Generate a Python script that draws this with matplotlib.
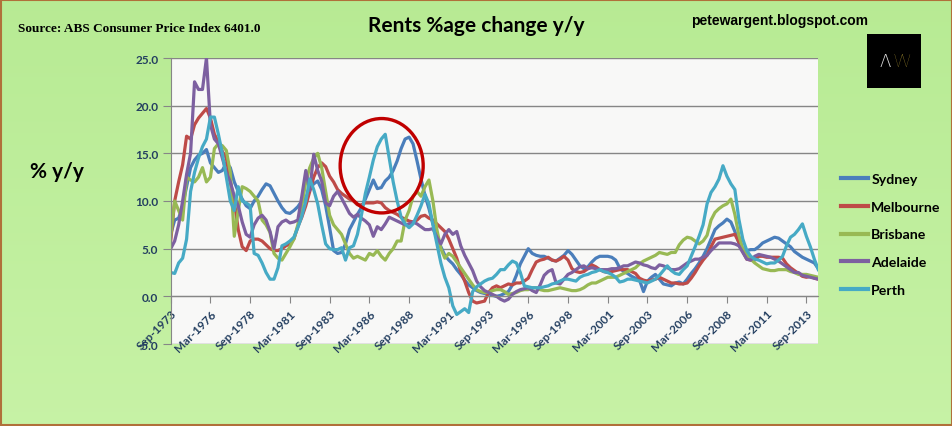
import numpy as np
import pandas as pd
import matplotlib
matplotlib.use("Agg")
import matplotlib.pyplot as plt
from matplotlib.patches import Ellipse, Rectangle

# ---------------- data (quarterly, Sep-1973 .. Jun-2014) ----------------
sydney = [
    6.5, 8.0, 8.2, 9.5, 11.5, 13.5, 14.3, 14.8, 15.0, 15.4,
    14.0, 13.5, 13.0, 13.2, 14.0, 13.5, 12.0, 11.0, 10.2, 9.5,
    9.2, 10.0, 10.5, 11.2, 11.8, 11.6, 10.8, 10.0, 9.3, 8.8,
    8.7, 9.0, 9.4, 10.0, 10.3, 11.3, 11.8, 12.1, 11.2, 9.5,
    7.2, 4.8, 4.5, 4.6, 5.5, 7.0, 7.8, 8.6, 9.3, 10.2,
    11.2, 12.2, 11.3, 11.4, 12.1, 12.5, 13.2, 14.2, 15.5, 16.5,
    16.7, 16.0, 14.2, 12.3, 10.6, 9.2, 7.6, 6.3, 5.2, 4.3,
    3.8, 3.4, 2.8, 2.3, 1.7, 1.2, 0.9, 0.6, 0.4, 0.3,
    0.3, 0.1, 0.0, 0.1, 0.3, 0.5, 1.2, 2.2, 3.4, 4.2,
    5.0, 4.5, 4.3, 4.2, 4.2, 4.0, 3.8, 3.7, 4.0, 4.3,
    4.8, 4.4, 3.8, 3.2, 2.9, 3.1, 3.6, 4.0, 4.2, 4.2,
    4.2, 4.1, 3.8, 3.0, 2.6, 2.4, 2.1, 1.9, 1.7, 0.5,
    1.6, 2.0, 2.3, 1.8, 1.3, 1.2, 1.1, 1.4, 1.5, 1.3,
    1.8, 2.4, 2.9, 3.5, 4.2, 5.0, 6.0, 7.0, 7.4, 7.7,
    8.1, 7.8, 6.8, 5.6, 4.9, 4.8, 4.9, 4.9, 5.2, 5.6,
    5.8, 6.0, 6.2, 6.1, 5.8, 5.5, 5.2, 4.7, 4.4, 4.1,
    3.9, 3.7, 3.5, 2.9,
]
melbourne = [
    5.8, 10.0, 12.0, 13.8, 16.8, 16.5, 18.0, 18.7, 19.2, 19.7,
    18.7, 17.0, 16.2, 15.2, 14.5, 12.0, 10.0, 7.0, 5.2, 4.8,
    5.8, 6.0, 6.0, 5.8, 5.4, 5.0, 4.8, 4.8, 5.0, 5.3,
    5.5, 6.0, 7.3, 8.3, 9.5, 11.0, 12.5, 13.5, 14.0, 13.6,
    12.6, 12.0, 11.2, 10.8, 10.5, 10.2, 10.0, 9.6, 9.6, 9.8,
    9.8, 9.8, 9.9, 9.8, 9.3, 9.0, 8.8, 8.6, 8.3, 8.1,
    7.9, 7.8, 8.0, 8.4, 8.5, 8.2, 8.0, 7.6, 7.2, 6.8,
    6.0, 5.0, 4.0, 2.6, 1.6, 0.4, -0.5, -0.7, -0.6, -0.5,
    0.4, 0.9, 1.1, 0.9, 1.1, 1.3, 1.2, 1.4, 1.4, 1.6,
    1.9, 2.8, 3.6, 3.8, 3.9, 4.1, 3.8, 3.7, 3.9, 4.2,
    3.8, 2.9, 2.6, 2.5, 2.6, 2.9, 3.3, 3.1, 2.8, 2.6,
    2.5, 2.6, 2.7, 2.8, 2.8, 2.8, 2.6, 2.4, 1.9, 1.7,
    1.6, 1.7, 1.8, 2.0, 1.8, 1.6, 1.4, 1.4, 1.3, 1.3,
    1.4, 1.9, 2.5, 3.2, 3.8, 4.3, 5.2, 6.0, 6.1, 6.2,
    6.3, 6.4, 6.5, 5.7, 4.7, 3.9, 3.8, 3.8, 4.2, 4.2,
    4.1, 4.1, 4.1, 4.1, 4.0, 3.4, 3.0, 2.7, 2.4, 2.1,
    2.0, 2.1, 1.9, 1.8,
]
brisbane = [
    6.3, 10.0, 9.0, 8.0, 12.5, 12.2, 12.0, 12.5, 13.5, 12.0,
    12.5, 15.5, 16.0, 15.8, 15.3, 13.0, 6.3, 9.0, 11.5, 11.3,
    11.0, 10.5, 10.0, 8.0, 7.5, 6.7, 4.5, 4.0, 3.8, 4.5,
    5.2, 6.0, 7.5, 9.5, 12.0, 13.5, 14.5, 15.0, 13.5, 11.0,
    8.5, 7.5, 7.0, 6.5, 5.5, 4.5, 4.0, 4.2, 4.0, 3.8,
    4.5, 4.3, 4.8, 4.2, 3.8, 4.5, 5.0, 5.8, 5.8, 8.0,
    9.0, 10.5, 11.0, 10.5, 11.5, 12.2, 10.0, 7.0, 5.0, 4.0,
    4.5, 4.2, 3.6, 3.0, 2.4, 1.8, 1.2, 0.7, 0.5, 0.4,
    0.4, 0.6, 0.7, 0.7, 0.5, 0.2, 0.3, 0.4, 0.6, 0.7,
    0.7, 0.9, 0.9, 0.7, 0.6, 0.6, 0.7, 0.8, 0.9, 0.8,
    0.7, 0.6, 0.6, 0.7, 0.9, 1.2, 1.4, 1.4, 1.6, 1.8,
    2.0, 2.0, 2.0, 2.2, 2.4, 2.6, 2.8, 3.0, 3.4, 3.7,
    3.9, 4.1, 4.3, 4.6, 4.5, 4.4, 4.6, 4.6, 5.4, 5.9,
    6.2, 6.1, 5.8, 5.5, 5.8, 6.4, 8.0, 8.8, 9.2, 9.5,
    9.7, 10.2, 8.6, 6.4, 5.0, 4.4, 3.9, 3.5, 3.2, 2.9,
    2.8, 2.7, 2.7, 2.8, 2.8, 2.8, 2.6, 2.5, 2.3, 2.3,
    2.3, 2.2, 2.1, 2.0,
]
adelaide = [
    5.0, 5.8, 7.5, 10.0, 12.8, 15.0, 22.5, 21.7, 21.7, 25.0,
    18.0, 16.5, 16.0, 14.5, 13.0, 12.0, 10.5, 9.5, 7.8, 6.5,
    6.2, 7.5, 8.2, 8.5, 8.0, 6.8, 5.0, 7.3, 7.8, 8.0,
    7.7, 7.8, 8.0, 10.5, 13.2, 11.1, 14.9, 13.2, 12.1, 9.8,
    9.5, 10.5, 11.0, 10.3, 9.5, 8.7, 8.3, 8.6, 8.2, 7.9,
    7.5, 6.3, 7.3, 7.0, 7.6, 8.3, 8.1, 7.9, 7.7, 7.5,
    7.6, 7.8, 7.6, 7.3, 7.0, 7.0, 7.1, 6.2, 5.5, 6.5,
    7.0, 6.5, 6.8, 5.3, 4.3, 3.5, 2.7, 1.6, 1.0, 0.6,
    0.4, 0.2, 0.0, -0.3, -0.5, -0.3, 0.2, 0.5, 0.7, 0.8,
    0.9, 0.6, 0.4, 1.2, 2.2, 2.6, 2.8, 1.4, 1.3, 1.8,
    2.3, 2.5, 2.8, 3.1, 3.2, 2.9, 3.0, 2.9, 2.8, 2.8,
    2.8, 2.9, 2.9, 3.0, 3.2, 3.2, 3.4, 3.6, 3.5, 3.3,
    3.2, 3.0, 2.9, 3.3, 3.2, 3.0, 2.8, 2.8, 2.9, 3.2,
    3.5, 3.7, 3.9, 3.9, 4.1, 4.3, 4.8, 5.2, 5.6, 5.6,
    5.6, 5.6, 5.5, 5.3, 4.6, 3.9, 3.8, 4.2, 4.4, 4.3,
    4.2, 4.1, 3.9, 3.7, 3.4, 3.1, 2.8, 2.5, 2.5, 2.2,
    2.1, 2.0, 1.9, 1.8,
]
perth = [
    2.5, 2.4, 3.5, 4.0, 6.0, 11.0, 13.0, 14.5, 15.7, 16.5,
    18.8, 18.8, 17.0, 15.0, 12.5, 10.0, 9.0, 11.5, 10.0, 9.8,
    9.5, 4.5, 4.3, 3.5, 2.5, 1.8, 1.8, 3.0, 5.3, 5.5,
    5.8, 6.2, 7.2, 8.4, 10.0, 12.3, 11.2, 9.7, 7.5, 5.5,
    5.0, 4.9, 4.9, 5.1, 3.8, 5.1, 5.3, 6.5, 8.5, 10.8,
    12.5, 14.3, 15.7, 16.5, 17.0, 14.5, 12.0, 10.0, 8.3, 7.6,
    7.2, 7.6, 8.5, 9.5, 10.7, 9.7, 7.5, 5.5, 3.5, 2.0,
    0.9, -1.0, -1.9, -1.6, -1.3, -1.7, 0.5, 1.0, 1.3, 1.6,
    1.8, 1.9, 2.3, 2.8, 2.8, 3.3, 3.7, 3.5, 2.5, 1.1,
    1.0, 0.9, 0.9, 0.9, 1.0, 1.1, 1.3, 1.4, 1.6, 1.8,
    1.8, 1.7, 1.6, 2.0, 2.2, 2.3, 2.5, 2.6, 2.8, 2.6,
    2.5, 2.3, 2.0, 1.5, 1.6, 1.8, 1.8, 1.7, 1.6, 1.5,
    1.4, 1.6, 1.8, 2.2, 2.7, 3.2, 2.7, 2.4, 2.3, 2.8,
    3.2, 4.2, 5.2, 6.3, 7.5, 9.7, 10.9, 11.5, 12.3, 13.7,
    12.6, 11.8, 11.2, 8.1, 6.0, 4.8, 4.2, 3.9, 3.8, 3.6,
    3.4, 3.5, 3.5, 3.8, 4.2, 5.3, 6.2, 6.5, 7.0, 7.6,
    6.3, 5.2, 3.9, 2.8,
]

series_names = ["Sydney", "Melbourne", "Brisbane", "Adelaide", "Perth"]
series_colors = ["#4a7ebb", "#be4b48", "#98b954", "#7d60a0", "#46aac5"]
series_values = [sydney, melbourne, brisbane, adelaide, perth]

tick_labels = ["Sep-1973", "Mar-1976", "Sep-1978", "Mar-1981", "Sep-1983",
               "Mar-1986", "Sep-1988", "Mar-1991", "Sep-1993", "Mar-1996",
               "Sep-1998", "Mar-2001", "Sep-2003", "Mar-2006", "Sep-2008",
               "Mar-2011", "Sep-2013"]
y_ticks = [-5, 0, 5, 10, 15, 20, 25]

# highlighted region (circle annotation) in data units: centre, width, height
circle_centre = (53.1, 13.7)
circle_size = (20.9, 9.9)

# ---------------- figure ----------------
W, H = 953, 427
fig = plt.figure(figsize=(W / 100, H / 100), dpi=100)
fig.patch.set_facecolor("#c2efa2")

# soft green gradient background
top = np.array([0.78, 0.95, 0.65])
bot = np.array([0.72, 0.92, 0.58])
t = np.linspace(0, 1, H)[:, None, None]
grad = (top * (1 - t) + bot * t) * np.ones((1, W, 1))
fig.figimage(grad[::-1], xo=0, yo=0, zorder=-5, origin="upper")

left, right, topy, boty = 170.7, 818.3, 59, 345
ax = fig.add_axes([left / W, 1 - boty / H, (right - left) / W, (boty - topy) / H])
ax.set_facecolor("#f8f8f7")

n = len(sydney)
x = np.arange(n)
for name, col, vals in zip(series_names, series_colors, series_values):
    ax.plot(x, vals, color=col, lw=2.3, label=name, solid_joinstyle="round")

ax.set_xlim(0, n - 1)
ax.set_ylim(-5, 25)
ax.set_yticks(y_ticks)
ax.set_yticklabels([f"{v:.1f}" for v in y_ticks])
ax.yaxis.grid(True, color="#868686", lw=1.0)
ax.set_axisbelow(True)

for s in ["top", "right"]:
    ax.spines[s].set_visible(False)
ax.spines["left"].set_color("#868686")
ax.spines["bottom"].set_position(("data", 0))
ax.spines["bottom"].set_color("#868686")

ax.set_xticks(np.arange(0, n, 10))
ax.set_xticklabels(tick_labels)
tick_font = dict(family="Lato", weight="bold", size=8.5)
for lab in ax.get_xticklabels():
    lab.set_rotation(45)
    lab.set_ha("right")
    lab.set_va("top")
    lab.set_rotation_mode("anchor")
    lab.set_color("#243f60")
    lab.set_fontproperties(matplotlib.font_manager.FontProperties(**tick_font))
for lab in ax.get_yticklabels():
    lab.set_color("#243f60")
    lab.set_fontproperties(matplotlib.font_manager.FontProperties(**tick_font))
ax.tick_params(axis="x", direction="out", length=5, color="#868686", pad=3)
ax.tick_params(axis="y", direction="out", length=6, color="#868686", pad=3)

ell = Ellipse(circle_centre, circle_size[0], circle_size[1], fill=False,
              edgecolor="#c00000", lw=2.4, zorder=5)
ax.add_patch(ell)

# legend
leg = fig.legend(loc="upper left", bbox_to_anchor=(828 / W, 1 - 161 / H),
                 frameon=False, prop=dict(family="Lato", weight="bold", size=10.2),
                 handlelength=1.9, handletextpad=0.25, labelspacing=1.12)
for line in leg.get_lines():
    line.set_linewidth(3)

# texts
fig.text(18 / W, 1 - 29 / H, "Source: ABS Consumer Price Index 6401.0",
         family="Liberation Serif", weight="bold", size=9.5, va="center", ha="left")
fig.text(476 / W, 1 - 26 / H, "Rents %age change y/y", family="Lato",
         weight="bold", size=15, va="center", ha="center")
fig.text(780 / W, 1 - 21 / H, "petewargent.blogspot.com", family="Liberation Sans",
         weight="bold", size=10, va="center", ha="center")
fig.text(30 / W, 1 - 172 / H, "% y/y", family="Lato", weight="bold", size=15,
         va="center", ha="left")

# logo
fig.patches.append(Rectangle((867 / W, 1 - 89 / H), 54 / W, 54 / H,
                             transform=fig.transFigure, facecolor="black",
                             edgecolor="none", zorder=3))
fig.text(891 / W, 1 - 62 / H, "Λ", family="DejaVu Sans", weight="light", size=12,
         color="#dddddd", va="center", ha="right", zorder=4)
fig.text(893 / W, 1 - 62 / H, "W", family="Lato", weight="light", size=12,
         color="#e3c341", va="center", ha="left", zorder=4)

# border
fig.patches.append(Rectangle((0.0015, 0.003), 0.997, 0.994, transform=fig.transFigure,
                             fill=False, edgecolor="#b0703a", lw=1.5, zorder=10))

fig.savefig("out.png", dpi=100, facecolor=fig.get_facecolor())
